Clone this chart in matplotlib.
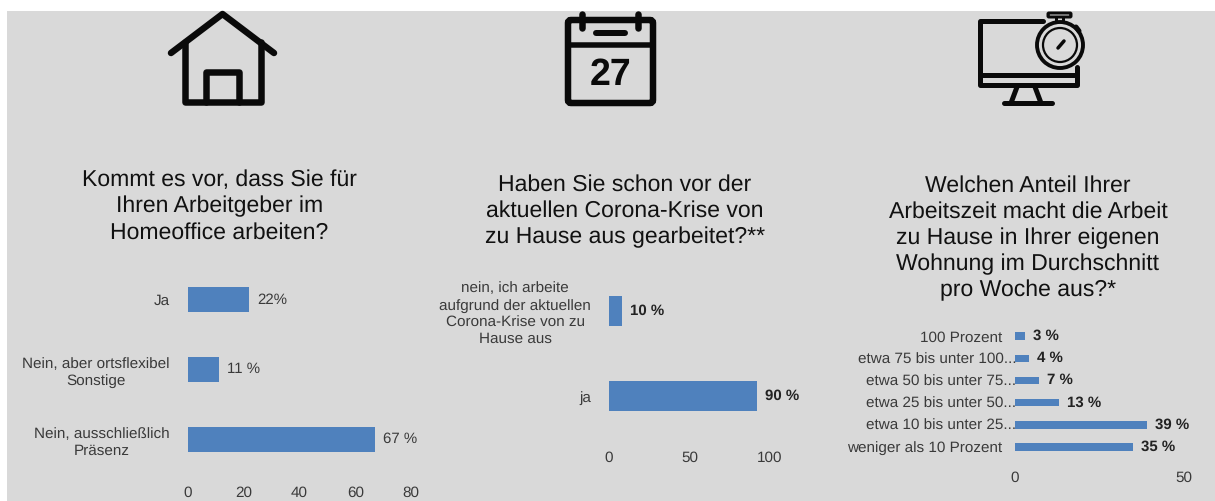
import matplotlib
matplotlib.use('Agg')
import matplotlib.pyplot as plt
from matplotlib.patches import Circle, Rectangle, FancyBboxPatch

plt.rcParams['font.family'] = ['Liberation Sans', 'DejaVu Sans']
plt.rcParams['text.hinting'] = 'no_hinting'

W, H = 1215, 501
GREY = '#d9d9d9'
BLUE = '#4f81bd'
BLACK = '#0a0a0a'
TEXT = '#3a3a3a'

# Daten, von oben nach unten
titel1 = 'Kommt es vor, dass Sie für\nIhren Arbeitgeber im\nHomeoffice arbeiten?'
kat1 = ['Ja', 'Nein, aber ortsflexibel\nSonstige', 'Nein, ausschließlich\nPräsenz']
werte1 = [22, 11, 67]
labels1 = ['22%', '11 %', '67 %']
ticks1 = [0, 20, 40, 60, 80]

titel2 = 'Haben Sie schon vor der\naktuellen Corona-Krise von\nzu Hause aus gearbeitet?**'
kat2 = ['nein, ich arbeite\naufgrund der aktuellen\nCorona-Krise von zu\nHause aus', 'ja']
werte2 = [8, 92]  # so lang sind die Balken im Bild, Beschriftung sagt 10/90
labels2 = ['10 %', '90 %']
ticks2 = [0, 50, 100]

titel3 = 'Welchen Anteil Ihrer\nArbeitszeit macht die Arbeit\nzu Hause in Ihrer eigenen\nWohnung im Durchschnitt\npro Woche aus?*'
kat3 = ['100 Prozent', 'etwa 75 bis unter 100...', 'etwa 50 bis unter 75...',
        'etwa 25 bis unter 50...', 'etwa 10 bis unter 25...', 'weniger als 10 Prozent']
werte3 = [3, 4, 7, 13, 39, 35]
labels3 = ['3 %', '4 %', '7 %', '13 %', '39 %', '35 %']
ticks3 = [0, 50]


def px_axes(fig, x0, x1, y0, y1):
    # Achse in Pixeln angeben, y von oben
    return fig.add_axes([x0 / W, 1 - y1 / H, (x1 - x0) / W, (y1 - y0) / H])


def balken(fig, kat, werte, labels, ticks, x0, x1, xmax, y0, y1, hoehe_px, tick_pad, bold=False, cat_pad=13):
    ax = px_axes(fig, x0, x1, y0, y1)
    ax.patch.set_alpha(0)
    n = len(kat)
    pos = list(range(n))
    ax.barh(pos, werte, height=hoehe_px * n / (y1 - y0), color=BLUE)
    ax.set_xlim(0, xmax)
    ax.set_ylim(n - 0.5, -0.5)
    for s in ax.spines.values():
        s.set_visible(False)
    ax.set_axisbelow(True)
    ax.set_yticks(pos)
    ax.set_yticklabels(kat, fontsize=11, color=TEXT, linespacing=1.27, multialignment='center')
    ax.set_xticks(ticks)
    ax.set_xticklabels([str(t) for t in ticks], fontsize=11, color=TEXT)
    ax.tick_params(length=0)
    ax.tick_params(axis='y', pad=cat_pad)
    ax.tick_params(axis='x', pad=tick_pad)
    for p, w, l in zip(pos, werte, labels):
        ax.annotate(l, (w, p), xytext=(8, 0), textcoords='offset pixels', va='center',
                    fontsize=10.8, color='#222222' if bold else TEXT,
                    fontweight='bold' if bold else 'normal')
    return ax


fig = plt.figure(figsize=(W / 100, H / 100), dpi=100, facecolor='white')

# Hintergrund und Icons in Pixelkoordinaten
bg = fig.add_axes([0, 0, 1, 1])
bg.set_xlim(0, W)
bg.set_ylim(H, 0)
bg.axis('off')
bg.add_patch(Rectangle((7, 11), W - 7, H - 11, color=GREY, lw=0))


def linie(xs, ys, lw=6.5):
    bg.plot(xs, ys, color=BLACK, lw=lw * 0.72, solid_capstyle='round', solid_joinstyle='round')


def box(x, y, w, h, lw=6.5, r=2):
    bg.add_patch(FancyBboxPatch((x, y), w, h, boxstyle='round,pad=0,rounding_size=%d' % r,
                                fill=False, ec=BLACK, lw=lw * 0.72))


# Haus
linie([171, 222.5, 274], [53, 14, 53])
linie([185, 185, 261, 261], [42, 102, 102, 42])
linie([206, 206, 239, 239], [102, 72, 72, 102])

# Kalender
box(568, 20, 85, 83, r=3)
linie([568, 653], [45, 45], lw=5.5)
linie([582, 582], [14, 28])
linie([638, 638], [14, 28])
linie([596, 625], [33, 33], lw=6)
bg.text(610.5, 75.5, '27', fontsize=27, fontweight='bold', color=BLACK, ha='center', va='center',
        family='Liberation Sans')

# Monitor mit Stoppuhr
linie([1043, 980, 980, 1077, 1077], [21, 21, 85, 85, 67], lw=5)
linie([980, 1077], [75, 75], lw=5)
linie([1017, 1011], [87, 103], lw=5)
linie([1035, 1041], [87, 103], lw=5)
linie([1004, 1052], [103, 103], lw=5)
bg.add_patch(Circle((1060, 45), 23, fc=GREY, ec=BLACK, lw=2.8))
bg.add_patch(Circle((1060, 45), 17, fc=GREY, ec=BLACK, lw=1.6))
linie([1058, 1064], [48, 41], lw=3.5)
linie([1056, 1056], [17, 22], lw=3)
linie([1063, 1063], [17, 22], lw=3)
box(1048, 13, 23, 4, lw=3, r=1)
linie([1076, 1079], [27, 31], lw=5)

# Titel
for t, x, y in [(titel1, 219.5, 206.5), (titel2, 625, 211), (titel3, 1028, 238)]:
    bg.text(x, y, t, fontsize=16.6, color='#111111', ha='center', va='center', linespacing=1.27)

# Balken
balken(fig, kat1, werte1, labels1, ticks1, 188, 411, 80, 265, 474, 25, 8.5)
balken(fig, kat2, werte2, labels2, ticks2, 609, 770, 100, 268.5, 438.5, 30, 9, bold=True)
ax3 = balken(fig, kat3, werte3, labels3, ticks3, 1015, 1184, 50, 325, 458, 7.5, 9, bold=True)
# abgeschnittene Beschriftungen laufen bis an den Balken
for i, tick in enumerate(ax3.yaxis.get_major_ticks()):
    if kat3[i].endswith('...'):
        tick.set_pad(-1)
    else:
        tick.set_pad(9)

fig.savefig('out.png', dpi=100, facecolor='white')
